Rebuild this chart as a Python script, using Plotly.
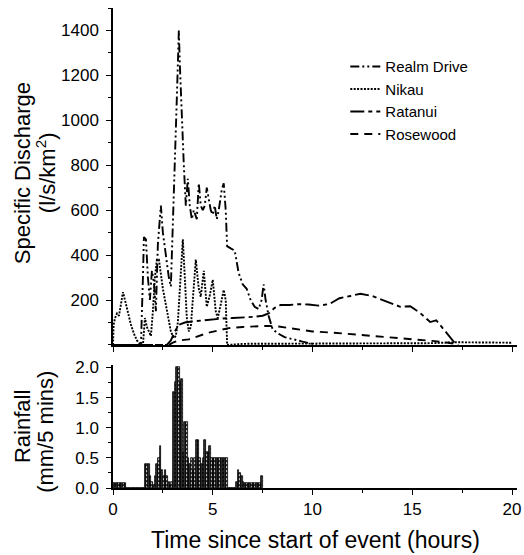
import plotly.graph_objects as go

# ---------------- data ----------------
realm_t = [0.0, 1.4, 1.5, 1.55, 1.65, 1.75, 1.85, 1.95, 2.05, 2.15, 2.25, 2.4, 2.5, 2.6, 2.7, 2.8, 2.9,
           3.0, 3.1, 3.2, 3.3, 3.35, 3.45, 3.55, 3.65, 3.75, 3.85, 3.95, 4.05, 4.2, 4.3, 4.4, 4.5, 4.6,
           4.7, 4.8, 4.9, 5.0, 5.1, 5.2, 5.3, 5.45, 5.55, 5.65, 5.72, 5.9, 6.1, 6.3, 6.5, 6.7, 6.9,
           7.1, 7.3, 7.45, 7.55, 7.65, 7.8, 8.0, 8.3, 8.6, 9.0, 9.5, 10.0, 10.2]
realm_q = [0, 0, 300, 480, 470, 300, 200, 330, 280, 150, 450, 620, 500, 430, 380, 300, 260,
           500, 820, 1100, 1400, 1250, 1000, 800, 620, 740, 620, 560, 600, 560, 720, 620, 600, 620,
           700, 640, 600, 580, 620, 560, 600, 690, 720, 600, 440, 430, 420, 320, 270, 250, 200,
           170, 160, 200, 270, 200, 130, 70, 50, 35, 25, 15, 5, 0]

nikau_t = [0.0, 0.03, 0.1, 0.2, 0.3, 0.4, 0.5, 0.6, 0.75, 0.9, 1.05, 1.2, 1.35, 1.5, 1.6, 1.7, 1.8,
           1.9, 2.0, 2.1, 2.2, 2.3, 2.5, 2.7, 2.9, 3.05, 3.15, 3.25, 3.4, 3.5, 3.6, 3.7, 3.8, 3.9,
           4.0, 4.15, 4.3, 4.4, 4.55, 4.7, 4.85, 5.0, 5.15, 5.25, 5.4, 5.55, 5.65, 5.72, 6.5, 10.0,
           13.0, 16.0, 17.2, 20.0]
nikau_q = [0, 90, 120, 140, 130, 190, 235, 200, 140, 90, 50, 20, 5, 0, 120, 80, 60,
           40, 150, 300, 380, 380, 250, 150, 60, 30, 40, 100, 300, 470, 300, 120, 60, 80,
           200, 380, 250, 215, 330, 170, 220, 290, 150, 120, 180, 245, 200, 0, 5, 5,
           5, 8, 12, 10]

ratanui_t = [0.0, 2.7, 2.9, 3.1, 3.3, 3.6, 4.0, 4.5, 5.0, 5.5, 6.0, 6.5, 7.0, 7.5, 7.8, 8.1, 8.4,
             8.85, 9.3, 9.8, 10.3, 10.85, 11.35, 11.9, 12.4, 13.0, 13.4, 13.85, 14.4, 14.9, 15.4,
             15.9, 16.2, 16.6, 16.9, 17.1, 17.3]
ratanui_q = [0, 0, 20, 60, 90, 100, 105, 110, 115, 118, 120, 122, 125, 130, 140, 165, 178,
             178, 182, 180, 175, 182, 208, 218, 228, 218, 205, 187, 170, 172, 142,
             102, 110, 67, 35, 12, 0]

rose_t = [0.0, 2.8, 3.0, 3.3, 3.8, 4.3, 4.8, 5.3, 5.8, 6.5, 7.2, 7.8, 8.3, 9.0, 9.5, 10.0, 11.0,
          12.0, 13.0, 14.0, 15.0, 16.0, 16.8, 17.3]
rose_q = [0, 0, 10, 20, 25, 40, 55, 65, 75, 80, 83, 85, 82, 72, 66, 60, 55,
          48, 40, 33, 25, 18, 10, 2]

# rainfall, 5-minute totals (mm) starting at t = 0
rain_mm = [0.08, 0.08, 0.08, 0.08, 0.08, 0.08, 0.08, 0.08,
           0, 0, 0, 0, 0, 0, 0, 0, 0, 0, 0,
           0.4, 0.4, 0.4, 0.2, 0.1, 0.05, 0.2, 0.4, 0.5, 0.7, 0.3, 0.2, 0.3, 0.2, 0.1, 0.05, 0.1,
           1.6, 1.75, 2.0, 2.0, 1.75, 1.8, 0.6, 1.1, 1.1, 0.5, 0.4, 0.5, 0.3, 0.5, 0.8, 0.8,
           0.5, 0.4, 0.5, 0.8, 0.6, 0.6, 0.7, 0.5,
           0.5, 0.5, 0.5, 0.5, 0.5, 0.5, 0.5, 0.5, 0.5,
           0, 0, 0, 0, 0,
           0.1, 0.3, 0.25, 0.2, 0.1,
           0.08, 0.08, 0.08, 0.08, 0.08, 0.08, 0.08, 0.08, 0.08, 0.08, 0.2]
bin_h = 5 / 60
rain_t = [(i + 0.5) * bin_h for i in range(len(rain_mm))]

x_ticks = [0, 5, 10, 15, 20]
q_ticks = [200, 400, 600, 800, 1000, 1200, 1400]
r_ticks = [0.0, 0.5, 1.0, 1.5, 2.0]
r_labels = ["0.0", "0.5", "1.0", "1.5", "2.0"]

# ---------------- figure ----------------
FONT = "Liberation Sans, Arial, sans-serif"
fig = go.Figure()

line_w = 1.9
fig.add_trace(go.Scatter(x=realm_t, y=realm_q, name="Realm Drive", mode="lines",
                         line=dict(color="black", width=line_w, dash="9px,3px,2px,3px,2px,3px"),
                         xaxis="x2", yaxis="y2"))
fig.add_trace(go.Scatter(x=nikau_t, y=nikau_q, name="Nikau", mode="lines",
                         line=dict(color="black", width=line_w, dash="2px,1.4px"),
                         xaxis="x2", yaxis="y2"))
fig.add_trace(go.Scatter(x=ratanui_t, y=ratanui_q, name="Ratanui", mode="lines",
                         line=dict(color="black", width=line_w, dash="14px,4px,4px,4px"),
                         xaxis="x2", yaxis="y2"))
fig.add_trace(go.Scatter(x=rose_t, y=rose_q, name="Rosewood", mode="lines",
                         line=dict(color="black", width=line_w, dash="8px,6px"),
                         xaxis="x2", yaxis="y2"))

fig.add_trace(go.Bar(x=rain_t, y=rain_mm, width=bin_h, showlegend=False,
                     marker=dict(color="#2e2e2e", line=dict(color="black", width=0.8),
                                 pattern=dict(shape=".", fgcolor="white", bgcolor="#2e2e2e",
                                              size=4, solidity=0.2)),
                     xaxis="x", yaxis="y"))

axis_common = dict(showline=True, linecolor="black", linewidth=1.5, ticks="outside",
                   tickcolor="black", tickwidth=1.2, showgrid=False, zeroline=False,
                   automargin=False,
                   tickfont=dict(family=FONT, size=17, color="black"))

fig.update_layout(
    template="none",
    width=524, height=555,
    margin=dict(l=113, r=7, t=8, b=67, pad=0, autoexpand=False),
    paper_bgcolor="white", plot_bgcolor="white",
    bargap=0,
    showlegend=True,
    legend=dict(x=0.575, y=0.912, xanchor="left", yanchor="top",
                font=dict(family=FONT, size=15, color="black"),
                bgcolor="rgba(0,0,0,0)", borderwidth=0, tracegroupgap=0, itemwidth=30),
    xaxis=dict(domain=[0, 1], range=[0, 20.25], anchor="y", tickvals=x_ticks, ticklen=5,
               minor=dict(dtick=2.5, tick0=0, ticklen=3, ticks="outside", tickcolor="black"),
               **axis_common),
    yaxis=dict(domain=[0, 0.256], range=[0, 2.04], anchor="x", tickvals=r_ticks,
               ticktext=r_labels, ticklen=5, ticklabelstandoff=4,
               minor=dict(dtick=0.25, ticklen=3, ticks="outside", tickcolor="black"),
               **axis_common),
    xaxis2=dict(domain=[0, 1], range=[0, 20.25], anchor="y2", tickvals=x_ticks, ticklen=5,
                showticklabels=False, matches="x",
                minor=dict(dtick=2.5, tick0=0, ticklen=3, ticks="outside", tickcolor="black"),
                **axis_common),
    yaxis2=dict(domain=[0.298, 1], range=[0, 1500], anchor="x2", tickvals=q_ticks, ticklen=5,
                ticklabelstandoff=4,
                minor=dict(dtick=100, ticklen=3, ticks="outside", tickcolor="black"),
                **axis_common),
)

title_font = dict(family=FONT, size=22, color="black")
for txt, xp, yp in [("Specific Discharge", -0.2252, 0.656),
                    ("(l/s/km<sup>2</sup>)", -0.1658, 0.656),
                    ("Rainfall", -0.2252, 0.127),
                    ("(mm/5 mins)", -0.1658, 0.117)]:
    fig.add_annotation(text=txt, textangle=-90, xref="paper", yref="paper", x=xp, y=yp,
                       xanchor="center", yanchor="middle", showarrow=False, font=title_font)
fig.add_annotation(text="Time since start of event (hours)", xref="paper", yref="paper",
                   x=0.502, y=-0.108, xanchor="center", yanchor="middle", showarrow=False,
                   font=dict(family=FONT, size=23, color="black"))

fig.write_html("out.html", config={"displayModeBar": False},
               post_script="document.body.style.margin='0px';document.body.style.overflow='hidden';")
